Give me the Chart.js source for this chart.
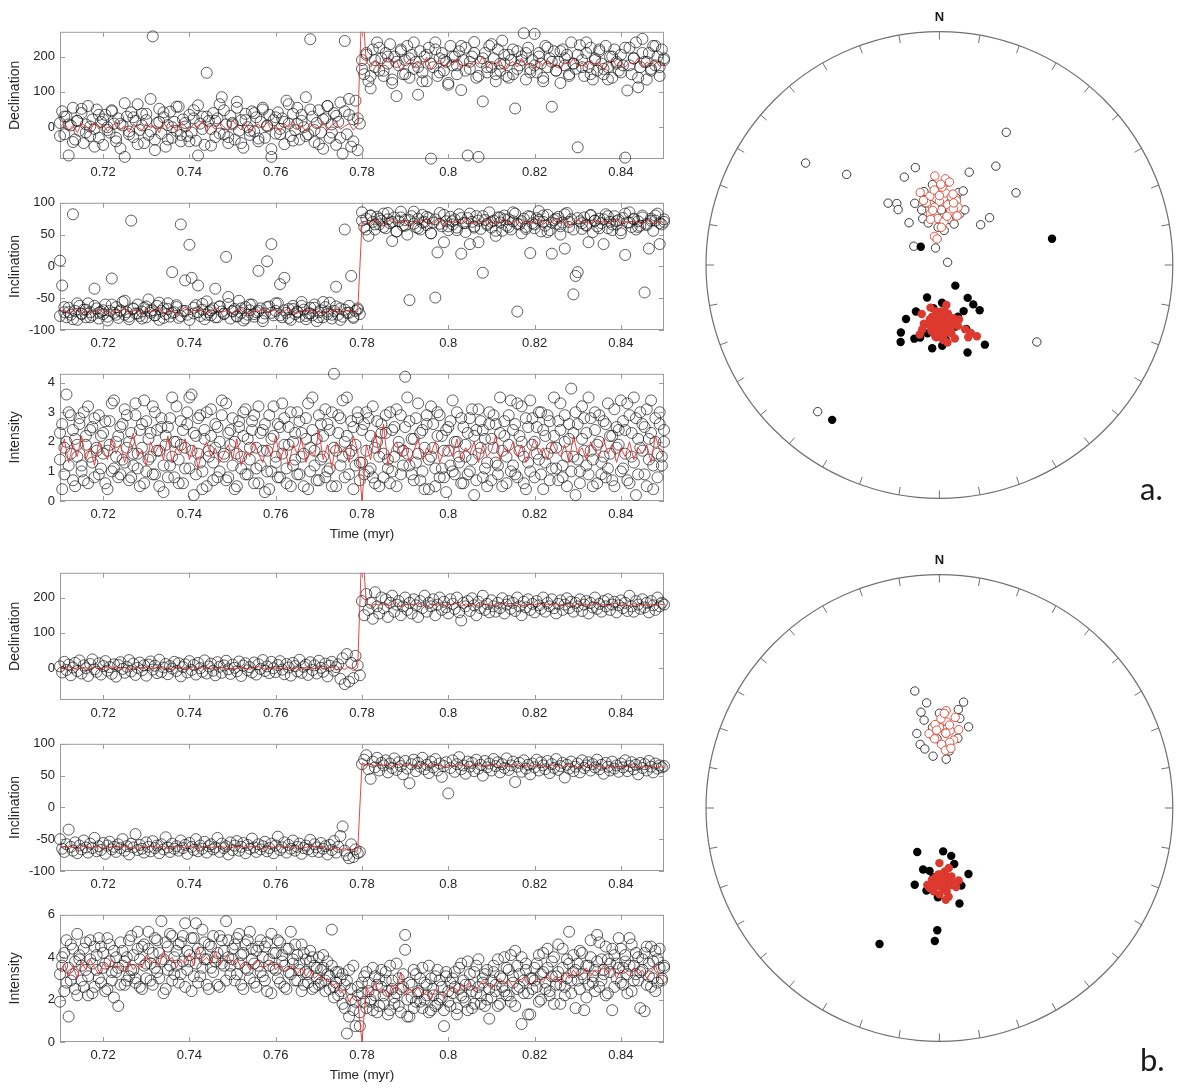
<!DOCTYPE html>
<html>
<head>
<meta charset="utf-8">
<title>Reversal records and stereonets</title>
<script src="https://cdn.jsdelivr.net/npm/chart.js@4.4.1/dist/chart.umd.min.js"></script>
<style>
  html, body { margin: 0; padding: 0; background: #fff; }
  body { width: 1178px; height: 1092px; position: relative; overflow: hidden; }
  canvas { position: absolute; }
</style>
</head>
<body>
<script>
// sample times (myr), one every 0.5 kyr
const times = [
  0.7100,0.7105,0.7110,0.7115,0.7120,0.7125,0.7130,0.7135,0.7140,0.7145,
  0.7150,0.7155,0.7160,0.7165,0.7170,0.7175,0.7180,0.7185,0.7190,0.7195,
  0.7200,0.7205,0.7210,0.7215,0.7220,0.7225,0.7230,0.7235,0.7240,0.7245,
  0.7250,0.7255,0.7260,0.7265,0.7270,0.7275,0.7280,0.7285,0.7290,0.7295,
  0.7300,0.7305,0.7310,0.7315,0.7320,0.7325,0.7330,0.7335,0.7340,0.7345,
  0.7350,0.7355,0.7360,0.7365,0.7370,0.7375,0.7380,0.7385,0.7390,0.7395,
  0.7400,0.7405,0.7410,0.7415,0.7420,0.7425,0.7430,0.7435,0.7440,0.7445,
  0.7450,0.7455,0.7460,0.7465,0.7470,0.7475,0.7480,0.7485,0.7490,0.7495,
  0.7500,0.7505,0.7510,0.7515,0.7520,0.7525,0.7530,0.7535,0.7540,0.7545,
  0.7550,0.7555,0.7560,0.7565,0.7570,0.7575,0.7580,0.7585,0.7590,0.7595,
  0.7600,0.7605,0.7610,0.7615,0.7620,0.7625,0.7630,0.7635,0.7640,0.7645,
  0.7650,0.7655,0.7660,0.7665,0.7670,0.7675,0.7680,0.7685,0.7690,0.7695,
  0.7700,0.7705,0.7710,0.7715,0.7720,0.7725,0.7730,0.7735,0.7740,0.7745,
  0.7750,0.7755,0.7760,0.7765,0.7770,0.7775,0.7780,0.7785,0.7790,0.7795,
  0.7800,0.7805,0.7810,0.7815,0.7820,0.7825,0.7830,0.7835,0.7840,0.7845,
  0.7850,0.7855,0.7860,0.7865,0.7870,0.7875,0.7880,0.7885,0.7890,0.7895,
  0.7900,0.7905,0.7910,0.7915,0.7920,0.7925,0.7930,0.7935,0.7940,0.7945,
  0.7950,0.7955,0.7960,0.7965,0.7970,0.7975,0.7980,0.7985,0.7990,0.7995,
  0.8000,0.8005,0.8010,0.8015,0.8020,0.8025,0.8030,0.8035,0.8040,0.8045,
  0.8050,0.8055,0.8060,0.8065,0.8070,0.8075,0.8080,0.8085,0.8090,0.8095,
  0.8100,0.8105,0.8110,0.8115,0.8120,0.8125,0.8130,0.8135,0.8140,0.8145,
  0.8150,0.8155,0.8160,0.8165,0.8170,0.8175,0.8180,0.8185,0.8190,0.8195,
  0.8200,0.8205,0.8210,0.8215,0.8220,0.8225,0.8230,0.8235,0.8240,0.8245,
  0.8250,0.8255,0.8260,0.8265,0.8270,0.8275,0.8280,0.8285,0.8290,0.8295,
  0.8300,0.8305,0.8310,0.8315,0.8320,0.8325,0.8330,0.8335,0.8340,0.8345,
  0.8350,0.8355,0.8360,0.8365,0.8370,0.8375,0.8380,0.8385,0.8390,0.8395,
  0.8400,0.8405,0.8410,0.8415,0.8420,0.8425,0.8430,0.8435,0.8440,0.8445,
  0.8450,0.8455,0.8460,0.8465,0.8470,0.8475,0.8480,0.8485,0.8490,0.8495,
  0.8500
];
// the red running curve (and the extra samples) are at every second time (1 kyr)
const lineTimes = times.filter((t, i) => i % 2 === 0);

const xTicks = [0.72, 0.74, 0.76, 0.78, 0.8, 0.82, 0.84];

// ---- record a ----
const decA = [
  12,45,-20,30,-80,5,55,-35,18,-10,
  40,-45,8,60,-25,22,-5,50,-30,15,
  -50,35,0,-15,48,10,-40,25,-60,5,
  -84,30,-12,42,-28,18,65,-8,38,-45,
  20,-22,80,257,-35,12,52,-18,28,-55,
  6,44,-30,15,-10,58,-40,22,2,-25,
  35,-15,48,-38,-80,10,30,-50,154,18,
  -5,40,-28,25,65,85,-20,8,-45,32,
  12,-35,55,-10,20,-58,38,0,-22,45,
  -12,28,-40,15,50,-30,5,35,-84,20,
  -18,42,-5,25,-48,75,10,-25,38,-8,
  55,-35,18,0,85,-20,249,30,-42,12,
  48,-15,-61,25,60,-30,8,40,-50,15,
  70,-75,244,-20,35,-55,22,75,-65,10,
  190,150,205,130,110,220,170,240,160,195,
  145,210,180,235,125,200,88,175,220,150,
  190,230,140,205,165,185,92,215,155,200,
  130,225,-89,170,240,145,195,210,160,185,
  120,230,175,200,150,215,105,190,225,-80,
  165,200,241,140,-84,185,73,210,155,230,
  170,195,130,220,160,245,180,145,205,190,
  150,53,215,175,200,266,135,225,165,190,
  264,155,210,180,140,230,170,195,58,215,
  160,185,125,220,175,205,150,240,180,165,
  -57,232,190,145,210,170,225,135,195,160,
  215,180,150,230,170,200,140,220,185,160,
  205,175,-86,104,225,150,195,240,113,170,
  250,185,135,210,165,230,175,200,145,220,
  190
];
const decA2 = [
  -25,30,8,-42,18,52,-15,2,-55,35,
  22,-8,45,-30,10,68,-20,28,-48,5,
  38,-12,-65,15,42,-35,0,58,-22,12,
  -40,25,62,-5,30,-52,18,-18,48,-28,
  8,72,-45,20,-10,40,-32,55,3,-62,
  28,-20,15,65,-38,10,35,-25,50,-8,
  -48,22,60,-15,32,-30,45,80,-40,25,
  165,210,145,190,225,160,200,135,185,215,
  150,195,240,170,130,205,180,220,155,190,
  125,200,175,230,160,185,210,145,195,170,
  235,150,180,205,140,220,165,190,210,155,
  175,200,130,225,185,160,215,195,145,180,
  205,170,240,150,190,220,165,135,200,180,
  155,225,175,195,140,210,185,160,230,170,
  195
];
const decALine = [
  0,12,-8,5,-15,10,3,-10,14,-5,
  8,-12,2,15,-6,4,-14,9,0,-9,
  11,-3,6,-16,13,-4,7,-11,16,2,
  -7,10,-2,18,-12,5,-6,14,1,-10,
  20,4,-8,12,-14,3,9,-5,15,-9,
  6,-13,10,0,17,-7,4,-11,12,2,
  -4,16,-9,7,13,-6,3,10,-8,5,
  355,
  185,170,190,165,182,195,172,188,160,178,
  192,168,184,175,198,162,180,190,170,186,
  176,194,166,182,172,188,178,200,168,184,
  174,190,162,180,186,170,195,176,182,166,
  188,174,192,170,180,164,186,178,194,172,
  182,168,190,176,184,160,180,192,174,186,
  170,182,178,196,168,184,176,190,172,180
];
const incA = [
  9,-30,-72,-80,-65,-76,82,-70,-84,-62,
  -74,-68,-80,-58,-72,-77,-35,-66,-82,-71,
  -75,-60,-79,-70,-19,-73,-64,-81,-69,-56,
  -76,-72,-83,72,-67,-74,-60,-78,-71,-65,
  -80,-52,-73,-69,-77,-62,-84,-70,-66,-75,
  -58,-79,-9,-72,-64,-81,66,-70,-22,-76,
  34,-18,-74,-61,-30,-78,-68,-83,-55,-72,
  -77,-66,-35,-80,-63,-71,-75,15,-59,-82,
  -70,-67,-78,-54,-73,-85,-64,-76,-69,-60,
  -79,-72,-7,-66,-81,-74,8,-63,35,-77,
  -70,-58,-28,-80,-18,-73,-67,-84,-62,-75,
  -71,-79,-56,-68,-83,-74,-65,-77,-60,-86,
  -72,-69,-80,-64,-75,-57,-82,-70,-32,-76,
  -66,-79,58,-73,-62,-15,-81,-70,-68,-75,
  85,62,75,48,80,70,58,78,66,72,
  83,60,74,68,40,77,55,71,86,64,
  73,50,-53,79,67,62,75,58,81,70,
  65,76,52,69,-49,22,84,63,38,71,
  57,78,66,74,61,82,20,68,54,76,
  35,70,63,79,38,59,-10,73,67,85,
  61,72,48,77,69,56,80,64,74,58,
  71,83,-71,66,52,75,62,79,21,68,
  60,76,87,55,70,64,81,57,20,73,
  67,78,50,69,28,84,62,74,-44,-15,
  -9,71,59,77,65,38,80,54,72,63,
  75,68,35,82,60,70,57,79,66,73,
  52,76,18,69,85,62,74,58,71,64,
  80,-41,67,28,75,56,72,83,35,66,
  70
];
const incA2 = [
  -78,-64,-72,-83,-58,-75,-68,-80,-62,-73,
  -69,-85,-60,-76,-71,-54,-79,-66,-74,-82,
  -63,-70,-77,-57,-81,-67,-73,-61,-78,-70,
  -84,-65,-72,-59,-76,-69,-80,-63,-74,-48,
  -71,-79,-66,-82,-60,-75,-70,-86,-64,-73,
  -58,-77,-69,-81,-67,-72,-62,-78,-74,-65,
  -80,-56,-71,-76,-63,-84,-68,-73,-79,-66,
  72,58,80,66,75,62,84,70,55,77,
  64,73,86,60,69,78,52,74,67,81,
  63,71,57,76,68,83,61,72,79,65,
  70,56,77,74,62,85,67,71,59,78,
  66,73,80,54,69,75,63,82,70,58,
  76,68,64,81,72,60,74,79,66,71,
  57,83,69,75,62,77,65,72,80,68,
  74
];
const incALine = [
  -72,-68,-74,-70,-66,-73,-69,-75,-71,-67,
  -73,-70,-76,-68,-72,-65,-74,-70,-69,-75,
  -67,-72,-70,-66,-74,-71,-68,-76,-70,-64,
  -73,-69,-72,-67,-75,-70,-66,-73,-71,-68,
  -74,-70,-65,-72,-76,-69,-71,-67,-73,-70,
  -68,-75,-70,-66,-72,-74,-69,-71,-67,-73,
  -70,-76,-68,-72,-65,-74,-70,-69,-73,-71,
  68,72,66,74,69,64,71,75,67,70,
  73,65,69,72,68,76,66,70,74,63,
  71,69,73,67,75,70,66,72,68,74,
  64,71,69,76,67,70,73,65,72,68,
  70,74,66,71,69,75,67,72,64,70,
  73,68,71,66,74,69,72,67,70,75,
  65,71,68,73,69,66,72,70,67,71,
  69
];
const intA1 = [
  2.3,0.4,1.8,3.6,1.2,2.9,0.7,2.1,1.5,2.6,
  1.0,3.0,1.9,0.6,2.4,1.3,2.8,1.7,0.9,2.2,
  1.6,2.7,0.4,1.9,3.3,1.1,2.0,0.8,2.5,1.4,
  3.1,1.8,0.7,2.3,1.2,2.9,1.6,0.5,2.6,3.4,
  1.0,2.1,1.5,3.2,0.9,2.4,1.7,2.8,0.3,1.9,
  2.5,1.2,3.5,0.8,2.0,1.4,2.7,0.6,1.8,3.0,
  1.1,3.6,0.2,2.2,1.6,2.9,1.0,2.4,0.5,1.7,
  3.1,1.3,2.6,0.8,2.0,3.4,1.5,0.7,2.3,1.9,
  2.8,0.4,1.6,2.5,1.1,3.0,0.9,2.1,1.4,2.7,
  0.6,1.8,3.2,1.2,2.4,0.3,1.7,2.9,1.0,2.2,
  1.5,2.6,0.8,3.3,1.9,1.1,2.5,0.5,2.0,1.4,
  3.0,0.9,2.3,1.6,2.8,0.4,1.8,3.5,1.2,2.1,
  0.7,2.6,1.5,3.1,1.0,2.4,0.5,4.3,1.7,2.9,
  1.2,3.4,0.8,2.2,1.6,2.7,0.4,1.9,3.0,1.3,
  2.4,0.9,1.7,2.8,1.1,3.2,0.6,2.0,1.5,2.6,
  0.8,2.3,1.4,3.0,1.0,2.5,0.5,1.8,2.9,1.2,
  4.2,1.6,2.7,0.9,2.1,1.3,3.3,0.7,2.4,1.8,
  2.9,0.4,1.5,2.6,1.1,3.0,0.8,2.2,1.7,0.3,
  2.5,1.2,3.4,0.9,2.0,1.5,2.8,0.6,1.9,2.3,
  1.0,3.1,0.2,2.4,1.6,2.7,0.8,2.1,1.3,3.0,
  0.7,1.8,2.6,1.2,3.5,0.5,2.2,1.5,2.9,1.0,
  2.4,0.9,3.3,1.7,2.0,0.6,2.8,1.3,3.4,1.9,
  0.8,2.5,1.4,3.0,0.4,2.2,1.6,2.7,1.1,3.5,
  1.8,0.7,2.4,1.2,2.9,0.5,2.1,3.8,1.5,0.2,
  2.6,1.0,3.2,1.7,2.3,0.9,2.8,1.4,3.0,0.6,
  2.0,1.3,2.7,0.8,3.3,1.6,2.2,0.5,2.5,1.9,
  3.4,1.1,2.4,0.7,2.9,1.5,3.5,0.2,2.1,1.8,
  2.6,0.9,3.1,1.4,2.3,0.4,2.8,1.6,3.0,1.2,
  2.4
];
const intA2 = [
  1.4,2.6,0.9,2.0,3.0,1.6,2.4,0.5,1.9,2.8,
  1.2,0.7,2.2,3.2,1.5,2.5,0.8,1.8,2.9,1.1,
  2.3,0.6,1.7,2.7,1.0,3.4,1.5,2.2,0.9,2.6,
  1.3,2.9,2.0,0.8,1.6,3.3,1.1,2.4,1.8,0.6,
  2.7,1.4,2.3,0.9,3.0,1.7,0.5,2.5,1.2,2.2,
  0.8,2.8,1.5,2.0,3.2,0.6,1.9,2.4,1.1,2.6,
  3.5,1.7,2.3,0.9,2.8,1.3,0.4,2.1,3.0,1.5,
  2.2,0.7,1.8,2.5,1.0,2.9,1.6,3.3,0.8,2.4,
  1.2,2.0,0.5,2.7,1.5,2.2,3.1,0.9,1.8,2.4,
  2.9,1.1,0.6,2.3,1.7,2.6,1.0,0.4,2.1,3.2,
  1.3,0.8,2.5,1.6,2.8,0.6,1.9,3.0,1.2,2.3,
  0.9,2.7,1.5,0.5,2.1,3.3,1.0,2.4,1.7,0.7,
  2.9,1.4,2.2,0.8,2.6,1.1,3.0,1.8,0.5,2.3,
  2.8,1.5,2.0,3.5,0.9,1.7,2.5,1.2,2.8,0.7,
  1.3,2.6,3.0,1.0,2.2,0.8,1.8,2.7,0.5,2.3,
  1.6,2.9,1.1,0.6,2.4,1.5,3.1,2.0,0.9,1.7,
  2.5,3.5,1.2,2.1,0.7,2.8,1.6,2.3,1.0,0.4,
  2.6,1.4,3.2,1.8,0.5,2.2,2.9,1.1,0.8,2.4,
  1.7,2.7,1.0,2.0,3.0,1.3,0.6,2.5,1.5,0.9,
  2.8,1.4,2.2,0.7,3.1,1.8,2.4,1.1,0.5,2.6,
  2.1,2.9,1.3,0.9,2.3,1.7,2.7,0.6,1.9,3.4,
  1.2,2.6,0.8,2.2,3.2,1.5,0.4,2.5,1.0,2.8,
  2.0,1.6,3.0,0.9,2.4,1.3,2.9,0.7,1.8,2.2,
  1.1,2.7,3.3,0.8,2.0,1.5,2.6,1.0,2.3,3.0,
  1.4,0.6,2.1,2.8,1.2,3.5,1.7,0.5,2.4,1.9,
  2.9,0.9,1.5,2.6,1.1,2.2,0.7,3.1,1.8,2.4,
  1.0,2.7,1.6,3.3,0.6,2.3,1.3,2.8,0.9,3.0,
  1.7,2.5,0.5,2.1,3.4,1.2,2.0,0.8,2.6,1.5,
  2.0
];
const intALine = [
  1.6,2.1,1.3,1.9,1.5,2.2,1.4,1.8,1.2,2.0,
  1.7,1.4,2.1,1.6,1.9,1.3,1.8,2.3,1.5,1.7,
  1.2,2.0,1.6,1.9,1.4,2.2,1.3,1.8,1.6,2.1,
  1.4,1.9,1.1,1.7,2.0,1.5,1.8,1.3,1.6,1.9,
  1.4,2.1,1.2,1.7,1.5,2.0,1.6,1.3,1.9,1.5,
  2.2,1.4,1.8,1.2,1.9,1.6,2.1,1.3,1.7,1.5,
  2.4,1.4,1.9,1.1,2.0,1.6,1.8,1.3,2.2,1.7,
  0.0,
  1.9,1.4,2.3,1.6,2.6,1.2,1.8,2.0,1.5,1.9,
  1.3,1.7,2.1,1.4,1.8,1.6,2.0,1.3,1.7,1.9,
  1.5,2.1,1.4,1.8,1.6,2.0,1.3,1.9,1.5,1.7,
  2.2,1.4,1.8,1.6,2.0,1.5,1.9,1.3,1.7,2.1,
  1.6,1.8,1.4,2.0,1.7,1.5,1.9,1.3,2.2,1.6,
  1.8,1.4,2.0,1.7,1.5,2.1,1.6,1.9,1.3,1.8,
  1.5,2.0,1.4,1.8,1.6,1.9,1.3,2.2,1.7,1.5
];

// ---- record b ----
const decB = [
  5,-12,18,-5,10,-20,2,15,-8,22,
  -15,8,0,-22,12,25,-3,-10,14,-18,
  6,20,-7,3,-16,11,-24,9,17,-2,
  -13,4,23,-9,13,-19,1,16,-6,8,
  -21,10,19,-4,7,-14,24,-11,2,12,
  -17,6,-1,18,-8,14,-23,3,11,-12,
  20,-5,9,-18,15,0,-10,22,-15,5,
  13,-7,-20,17,4,-13,8,21,-3,-16,
  10,1,-9,19,-22,7,14,-6,3,-12,
  16,-18,11,-2,23,-8,5,-14,18,0,
  -11,9,20,-4,-17,12,2,-21,15,6,
  -9,24,-13,4,10,-19,17,-5,8,-15,
  21,1,-10,13,-23,7,18,-7,3,11,
  -30,28,-45,40,-38,15,-28,35,8,-20,
  190,150,210,165,185,140,215,175,155,200,
  170,195,145,185,205,160,180,190,150,175,
  200,165,185,155,195,178,145,190,170,205,
  160,185,175,195,150,180,200,165,188,172,
  155,195,182,168,200,158,135,185,175,190,
  162,198,178,150,188,170,205,165,182,158,
  192,175,160,185,170,198,155,180,190,168,
  185,162,200,175,150,188,172,195,165,182,
  158,190,178,168,200,160,185,175,195,170,
  155,182,192,165,180,198,170,188,160,185,
  175,195,162,180,190,155,185,172,200,168,
  182,160,190,175,195,165,180,188,158,178,
  192,170,185,162,205,175,160,190,180,168,
  195,172,185,158,190,178,165,200,175,185,
  180
];
const decBLine = [
  2,-3,4,0,-5,3,1,-2,5,-4,
  0,3,-1,4,-3,2,-5,1,3,-2,
  4,-1,0,5,-3,2,-4,1,3,-2,
  0,4,-3,2,-1,5,-2,0,3,-4,
  1,-2,4,0,-3,2,5,-1,-4,3,
  0,-2,4,1,-3,2,-5,3,0,-1,
  4,-3,2,6,-6,3,-4,5,-8,2,
  355,
  186,175,182,178,184,176,181,186,174,180,
  183,177,185,179,174,182,178,184,176,181,
  179,185,175,182,178,180,176,184,179,182,
  175,181,186,177,180,183,178,176,182,179,
  185,177,181,178,184,176,180,182,175,183,
  179,181,177,185,178,180,176,182,184,178,
  181,176,183,179,180,177,182,178,181,180
];
const incB = [
  -50,-65,-70,-58,-35,-62,-68,-55,-72,-60,
  -66,-52,-63,-71,-57,-64,-48,-69,-61,-67,
  -56,-73,-60,-54,-66,-62,-70,-58,-64,-50,
  -68,-61,-74,-57,-63,-42,-67,-59,-65,-71,
  -55,-62,-69,-53,-64,-60,-72,-58,-66,-47,
  -63,-70,-57,-65,-61,-68,-52,-64,-59,-73,
  -56,-62,-67,-50,-69,-60,-65,-54,-71,-61,
  -58,-66,-63,-48,-70,-57,-64,-61,-74,-55,
  -67,-60,-53,-68,-62,-56,-72,-59,-65,-49,
  -63,-70,-58,-66,-61,-54,-69,-64,-57,-72,
  -60,-46,-67,-63,-55,-71,-59,-65,-52,-68,
  -62,-57,-73,-64,-60,-66,-51,-69,-58,-63,
  -70,-56,-65,-61,-74,-59,-67,-53,-71,-62,
  -45,-30,-68,-75,-80,-58,-78,-66,-72,-70,
  68,75,82,60,45,72,63,78,58,70,
  66,74,55,69,62,77,59,71,65,52,
  73,61,38,68,75,57,70,64,78,60,
  67,54,72,63,76,58,69,48,65,71,
  22,62,74,56,68,79,60,66,53,72,
  64,70,57,75,61,67,50,73,63,69,
  58,76,65,71,55,68,62,77,59,66,
  72,40,64,70,56,74,61,67,52,69,
  63,75,58,71,66,60,73,54,68,62,
  76,59,65,70,47,67,61,72,57,64,
  69,55,74,62,66,71,58,68,63,75,
  60,67,53,70,64,58,72,61,66,56,
  69,63,74,57,65,71,60,67,52,70,
  62,68,58,73,64,55,69,61,66,63,
  65
];
const incBLine = [
  -62,-64,-61,-63,-65,-62,-60,-64,-63,-61,
  -65,-62,-64,-60,-63,-61,-64,-62,-66,-61,
  -63,-60,-64,-62,-61,-65,-63,-60,-62,-64,
  -61,-63,-65,-62,-60,-64,-61,-63,-62,-65,
  -60,-63,-61,-64,-62,-60,-63,-65,-61,-62,
  -64,-60,-63,-61,-65,-62,-64,-63,-60,-62,
  -64,-61,-66,-63,-65,-67,-64,-68,-66,-69,
  70,67,69,65,68,66,70,64,67,69,
  65,68,63,66,69,64,67,65,68,63,
  66,64,69,65,67,63,68,66,64,67,
  65,69,63,66,64,68,65,67,63,66,
  64,68,65,62,67,64,66,63,68,65,
  62,66,64,67,63,65,61,66,64,62,
  65,63,67,64,62,65,63,66,62,64,
  63
];
const intB1 = [
  1.9,3.6,4.2,2.8,1.2,4.6,3.2,2.5,5.1,3.9,
  2.9,4.4,3.4,2.2,4.8,3.7,2.6,4.1,3.0,4.5,
  3.5,2.4,4.9,3.8,2.9,4.3,3.3,1.7,4.7,3.6,
  2.7,4.0,3.1,5.0,3.4,2.8,4.4,3.9,2.5,4.6,
  3.7,5.2,2.9,4.2,3.5,4.8,3.0,5.7,3.9,2.5,
  4.5,3.6,5.0,3.2,4.3,2.8,4.7,3.8,5.6,3.4,
  4.1,2.4,4.9,3.7,4.4,3.1,5.3,3.9,2.7,4.6,
  3.5,5.0,3.8,4.2,2.6,4.8,3.6,5.7,4.0,3.2,
  4.4,2.9,4.9,3.7,4.1,2.5,4.6,3.4,5.2,3.9,
  2.8,4.3,3.6,4.8,3.1,4.5,2.4,3.9,5.1,3.5,
  4.2,3.0,4.7,3.8,2.6,4.4,3.3,5.2,3.7,2.9,
  4.1,3.4,4.6,2.7,3.9,3.2,4.3,2.5,3.6,3.0,
  4.0,2.8,3.5,2.4,3.8,3.1,5.3,2.6,3.3,2.2,
  3.0,1.8,2.7,0.4,3.4,2.0,1.5,0.75,2.6,0.75,
  2.3,3.1,1.6,2.8,1.9,3.5,2.2,1.4,3.0,2.6,
  1.8,3.3,2.4,1.5,2.9,2.1,3.7,1.7,2.5,3.2,
  5.05,2.0,1.2,2.7,3.4,1.9,2.3,3.0,1.6,2.8,
  2.2,3.6,1.5,2.5,3.1,1.8,2.9,2.1,0.75,3.3,
  2.4,1.7,3.0,2.6,1.3,3.5,2.2,2.9,1.9,3.8,
  2.7,1.6,3.3,2.3,3.9,1.8,2.8,3.2,2.0,1.1,
  2.9,3.6,2.4,1.7,3.1,2.6,4.0,2.2,3.4,1.9,
  2.8,4.3,2.5,3.2,0.85,2.9,3.7,2.3,1.3,3.0,
  3.5,2.6,4.1,2.0,3.3,2.8,4.4,2.4,3.8,1.8,
  3.1,4.6,2.7,3.5,2.2,3.9,5.2,2.9,3.3,1.6,
  3.7,2.5,4.2,3.0,2.1,3.6,4.8,2.8,3.4,5.05,
  2.6,3.9,3.2,4.5,2.3,3.7,1.5,4.1,3.0,3.5,
  4.4,2.7,3.8,3.2,4.9,2.4,3.6,4.2,2.9,3.3,
  3.9,1.45,4.5,3.1,2.6,3.8,4.3,2.8,3.5,3.0,
  3.6
];
const intB2 = [
  3.2,4.0,2.4,4.8,3.5,2.9,4.4,3.8,2.2,4.1,
  3.6,2.6,4.7,3.1,3.9,2.3,4.5,3.4,4.9,2.8,
  4.2,3.7,2.5,4.6,3.3,2.1,4.0,3.5,2.7,4.3,
  3.8,2.9,4.8,3.4,4.1,3.0,5.2,2.6,4.5,3.6,
  3.0,4.4,3.7,2.7,4.9,3.3,4.2,3.8,2.3,4.7,
  3.4,5.1,2.9,4.0,3.6,4.6,3.2,5.0,2.6,4.3,
  3.8,4.9,3.1,5.6,2.8,4.2,3.5,4.7,3.9,2.5,
  4.5,3.3,4.0,2.7,5.0,3.7,4.3,2.9,4.8,3.6,
  3.9,4.6,3.2,5.1,2.7,4.2,3.5,4.8,3.0,4.4,
  3.7,2.6,4.5,3.3,4.0,2.9,4.7,3.6,2.3,4.2,
  3.4,4.8,2.8,4.1,3.6,2.5,4.4,3.2,3.9,4.6,
  2.9,3.7,2.4,4.2,3.3,2.8,3.8,4.0,2.6,3.5,
  2.7,3.4,4.1,2.9,3.2,2.5,3.6,2.1,2.8,3.3,
  2.4,3.2,1.6,2.9,1.2,2.5,3.6,1.9,2.2,1.4,
  2.8,1.9,3.3,2.4,2.0,1.5,3.1,2.7,1.7,3.4,
  2.2,2.9,1.3,3.6,2.5,1.8,2.3,3.0,1.4,2.6,
  4.35,1.2,2.8,2.1,1.6,3.2,2.4,1.9,3.5,2.0,
  2.7,1.4,3.0,2.2,1.7,3.4,2.0,2.6,1.5,3.1,
  1.9,2.8,2.3,3.3,1.6,2.5,3.7,2.1,2.7,1.5,
  3.2,2.4,1.8,3.6,2.6,2.2,3.0,1.7,3.4,2.5,
  2.1,3.3,2.7,3.9,1.8,3.0,2.4,3.5,2.2,4.1,
  3.1,1.7,3.6,2.6,4.0,2.3,3.4,1.3,3.0,2.5,
  2.9,3.7,1.9,3.2,4.2,2.5,3.5,2.2,3.1,4.0,
  2.7,3.3,1.8,4.4,2.6,3.0,3.7,2.3,4.1,3.4,
  2.9,4.3,3.2,1.5,3.6,2.7,4.0,3.1,2.4,3.8,
  4.7,2.9,3.4,2.2,3.9,3.3,4.4,2.6,3.7,4.9,
  2.8,3.5,4.1,2.3,3.6,4.6,2.9,3.2,4.0,1.6,
  3.4,4.2,2.7,3.7,4.5,3.0,2.4,3.9,4.4,2.9,
  3.5
];
const intBLine = [
  3.3,3.7,3.1,3.6,3.0,3.8,3.4,3.9,3.5,3.2,
  3.7,3.4,3.9,3.5,3.6,3.3,3.8,3.4,3.7,3.5,
  4.1,3.7,3.9,3.6,4.3,3.8,4.0,3.5,3.9,3.7,
  4.2,3.6,4.5,3.8,4.0,3.7,4.3,3.6,3.9,4.1,
  3.6,3.9,3.5,3.8,3.4,3.7,3.9,3.5,3.6,3.8,
  3.4,3.7,3.3,3.5,3.6,3.2,3.5,3.1,3.4,3.0,
  3.2,2.9,3.0,2.6,2.8,2.3,2.5,1.9,2.2,2.0,
  0.0,
  2.6,2.2,2.8,2.3,2.5,2.1,2.7,2.4,3.3,2.2,
  2.5,2.3,2.6,2.2,2.4,2.0,2.5,2.3,2.1,2.4,
  2.6,2.3,2.7,2.5,2.8,2.4,2.6,2.9,2.7,2.5,
  2.8,3.0,2.7,2.9,2.6,3.0,2.8,3.1,2.7,2.9,
  3.0,2.8,3.2,2.9,3.1,2.7,3.3,3.0,3.4,3.1,
  3.2,3.5,3.1,3.4,3.3,3.6,3.2,3.5,3.0,3.4,
  3.3,3.1,3.5,3.2,3.4,3.0,3.3,3.6,3.1,2.8
];

// ---- stereonet directions (declination, inclination in degrees) ----
const netA = {
  openDec: [307,314,27,30,47,18,47,46,346,338,320,325,323,324,306,347,72,128,220,
            350,5,15,340,355,10,22,345,0,8,352,18,338,3,12,348,25,358,6,342,14,356,20,347,2],
  openInc: [-29,-44,-37,-50,-53,-56,-66,-70,-55,-57,-62,-64,-66,-72,-79,-84,-87,-46,-20,
            -66,-70,-64,-73,-62,-68,-71,-75,-65,-78,-69,-63,-67,-72,-74,-64,-69,-77,-61,-70,-66,-73,-75,-68,-71],
  openRedDec: [0,5,355,10,350,2,8,358,15,345,4,12,352,6,18,348,1,9,356,14,3,346,11,7,353,20,357,0,13,349,350,355],
  openRedInc: [-68,-65,-70,-66,-72,-63,-69,-74,-67,-64,-60,-71,-66,-75,-69,-68,-62,-73,-64,-70,-77,-67,-65,-61,-71,-72,-59,-66,-68,-74,-80,-81],
  fillDec: [142,201,139,139,138,207,212,210,207,199,185,175,162,150,157,152,176,314,77,215,
            170,190,182,165,195,178,160,188],
  fillInc: [81,78,75,72,69,72,68,63,60,63,61,64,58,58,66,72,77,81,49,21,
            70,66,73,68,64,62,71,75],
  fillRedDec: [180,175,185,170,190,178,165,195,182,172,188,168,200,176,184,160,192,174,186,179,170,183,196,163,181,177,189,158,173,187,
               180,175,186,170,182,178,190,168,184,176,172,188,180,165,195,183,174,179,170,185,155,158,152],
  fillRedInc: [70,68,72,66,69,74,71,67,65,73,70,64,72,68,66,70,75,63,71,69,76,67,65,68,73,64,70,63,71,67,
               72,70,69,73,67,71,71,69,74,66,68,72,66,70,69,65,74,68,67,70,64,66,62]
};
const netB = {
  openDec: [348,353,13,11,349,343,343,353,8,20,13,355,5,358,2,350,15,346,10,0],
  openInc: [-48,-53,-52,-55,-56,-63,-67,-72,-73,-60,-58,-62,-64,-66,-60,-59,-65,-69,-70,-57],
  openRedDec: [0,5,355,10,2,8,357,12,4,352,6,14,1,9,358,3,11,7,356,5],
  openRedInc: [-62,-60,-65,-58,-68,-63,-61,-66,-56,-64,-70,-62,-59,-67,-63,-57,-69,-61,-66,-64],
  fillDec: [207,175,166,165,156,198,189,181,168,164,189,181,182,204,185,172,195],
  fillInc: [73,75,73,70,65,62,61,59,56,62,68,47,43,37,66,64,68],
  fillRedDec: [177,172,183,168,186,175,180,170,189,174,181,165,184,178,171,187,176,182,180,
               178,174,182,176,180,172,185,179,175,181,177,183,170,186],
  fillRedInc: [65,63,66,62,64,68,60,66,63,59,67,64,61,65,69,62,58,64,71,
               64,66,65,62,63,65,64,67,61,66,62,63,64,65]
};

Chart.defaults.font.family = '"Liberation Sans", Arial, Helvetica, sans-serif';
Chart.defaults.color = '#262626';
Chart.defaults.animation = false;

function addCanvas(left, top, w, h) {
  const c = document.createElement('canvas');
  c.width = w; c.height = h;
  c.style.left = left + 'px'; c.style.top = top + 'px';
  c.style.width = w + 'px'; c.style.height = h + 'px';
  document.body.appendChild(c);
  return c;
}

// grey box with inward ticks on all four sides
const boxPlugin = {
  id: 'box',
  beforeDatasetsDraw(chart) {
    const { ctx, chartArea: a, scales: { x, y } } = chart;
    ctx.save();
    ctx.strokeStyle = '#9b9b9b';
    ctx.lineWidth = 1;
    ctx.strokeRect(a.left + 0.5, a.top + 0.5, a.right - a.left - 1, a.bottom - a.top - 1);
    ctx.beginPath();
    x.ticks.forEach(t => {
      const px = Math.round(x.getPixelForValue(t.value)) + 0.5;
      ctx.moveTo(px, a.top); ctx.lineTo(px, a.top + 5);
      ctx.moveTo(px, a.bottom); ctx.lineTo(px, a.bottom - 5);
    });
    y.ticks.forEach(t => {
      const py = Math.round(y.getPixelForValue(t.value)) + 0.5;
      ctx.moveTo(a.left, py); ctx.lineTo(a.left + 5, py);
      ctx.moveTo(a.right, py); ctx.lineTo(a.right - 5, py);
    });
    ctx.stroke();
    ctx.restore();
  }
};

// sets: list of [timeArray, valueArray]
function timePanel(top, yTitle, yMin, yMax, yTicks, sets, lineVals, showTime) {
  const xH = showTime ? 46 : 26;
  const cv = addCanvas(0, top - 10, 680, 10 + 130 + xH);
  const datasets = [{
    data: lineTimes.map((t, i) => ({ x: t, y: lineVals[i] })),
    showLine: true, pointRadius: 0, borderWidth: 1,
    borderColor: 'rgba(228,50,50,0.9)', order: 0
  }];
  sets.forEach(([ts, vals]) => datasets.push({
    data: ts.map((t, i) => ({ x: t, y: vals[i] })),
    pointRadius: 5.5, borderWidth: 0.85,
    borderColor: 'rgba(20,20,20,0.8)', backgroundColor: 'rgba(0,0,0,0)',
    order: 1, clip: 7
  }));
  new Chart(cv, {
    type: 'scatter',
    data: { datasets },
    options: {
      responsive: false,
      animation: false,
      events: [],
      layout: { padding: { top: 10, left: 0, right: 16, bottom: 0 } },
      plugins: { legend: { display: false }, tooltip: { enabled: false } },
      scales: {
        x: {
          type: 'linear', min: 0.71, max: 0.85,
          afterBuildTicks: s => { s.ticks = xTicks.map(v => ({ value: v })); },
          afterFit: s => { s.height = xH; },
          grid: { display: false, drawTicks: false },
          border: { display: false },
          ticks: { padding: 6, autoSkip: false, maxRotation: 0, font: { size: 13 }, callback: v => String(v) },
          title: { display: showTime, text: 'Time (myr)', font: { size: 13.5 }, padding: { top: 0, bottom: 5 } }
        },
        y: {
          type: 'linear', min: yMin, max: yMax,
          afterBuildTicks: s => { s.ticks = yTicks.map(v => ({ value: v })); },
          afterFit: s => { s.width = 60; },
          grid: { display: false, drawTicks: false },
          border: { display: false },
          ticks: { padding: 5, autoSkip: false, font: { size: 13 }, callback: v => String(v) },
          title: { display: true, text: yTitle, font: { size: 14 }, padding: { top: 7, bottom: 0 } }
        }
      }
    },
    plugins: [boxPlugin]
  });
}

timePanel(29, 'Declination', -90, 270, [0, 100, 200], [[times, decA], [lineTimes, decA2]], decALine, false);
timePanel(200, 'Inclination', -100, 100, [-100, -50, 0, 50, 100], [[times, incA], [lineTimes, incA2]], incALine, false);
timePanel(371, 'Intensity', 0, 4.3, [0, 1, 2, 3, 4], [[times, intA1], [times, intA2]], intALine, true);
timePanel(570, 'Declination', -90, 270, [0, 100, 200], [[times, decB]], decBLine, false);
timePanel(741, 'Inclination', -100, 100, [-100, -50, 0, 50, 100], [[times, incB]], incBLine, false);
timePanel(912, 'Intensity', 0, 6, [0, 2, 4, 6], [[times, intB1], [times, intB2]], intBLine, true);

// equal-area (Lambert) projection of a direction
function project(decs, incs) {
  return decs.map((d, i) => {
    const r = Math.SQRT2 * Math.sin((90 - Math.abs(incs[i])) * Math.PI / 360);
    const a = d * Math.PI / 180;
    return { x: r * Math.sin(a), y: r * Math.cos(a) };
  });
}

function stereoPlugin(letter, letterX, letterY) {
  return {
    id: 'net' + letter,
    beforeDatasetsDraw(chart) {
      const { ctx, scales: { x, y } } = chart;
      const cx = x.getPixelForValue(0), cy = y.getPixelForValue(0);
      const R = x.getPixelForValue(1) - cx;
      ctx.save();
      ctx.strokeStyle = '#707070';
      ctx.lineWidth = 1.2;
      ctx.beginPath();
      ctx.arc(cx, cy, R, 0, Math.PI * 2);
      ctx.stroke();
      ctx.lineWidth = 1;
      ctx.beginPath();
      for (let az = 0; az < 360; az += 10) {
        const a = az * Math.PI / 180;
        ctx.moveTo(cx + R * Math.sin(a), cy - R * Math.cos(a));
        ctx.lineTo(cx + (R - 8) * Math.sin(a), cy - (R - 8) * Math.cos(a));
      }
      ctx.stroke();
      ctx.fillStyle = '#1a1a1a';
      ctx.font = 'bold 13px "Liberation Sans", Arial, sans-serif';
      ctx.textAlign = 'center';
      ctx.textBaseline = 'middle';
      ctx.fillText('N', cx, cy - R - 14);
      ctx.font = '31px Lato, "Open Sans", sans-serif';
      ctx.textAlign = 'left';
      ctx.textBaseline = 'alphabetic';
      ctx.fillText(letter, letterX, letterY);
      ctx.restore();
    }
  };
}

function stereonet(top, height, padTop, net, letter, letterY) {
  const cv = addCanvas(690, top, 488, height);
  const pad = { left: 16, right: 0, top: padTop, bottom: height - padTop - 472 };
  new Chart(cv, {
    type: 'scatter',
    data: {
      datasets: [
        { data: project(net.fillRedDec, net.fillRedInc), pointRadius: 4.2, borderWidth: 0,
          backgroundColor: '#dc3a2e', order: 0 },
        { data: project(net.fillDec, net.fillInc), pointRadius: 4.2, borderWidth: 0,
          backgroundColor: '#000000', order: 1 },
        { data: project(net.openRedDec, net.openRedInc), pointRadius: 4.2, borderWidth: 1,
          borderColor: '#e4513f', backgroundColor: '#ffffff', order: 2 },
        { data: project(net.openDec, net.openInc), pointRadius: 4.2, borderWidth: 1,
          borderColor: '#3a3a3a', backgroundColor: '#ffffff', order: 3 }
      ]
    },
    options: {
      responsive: false,
      animation: false,
      events: [],
      layout: { padding: pad },
      plugins: { legend: { display: false }, tooltip: { enabled: false } },
      scales: {
        x: { type: 'linear', min: -1, max: 1, display: false },
        y: { type: 'linear', min: -1, max: 1, display: false }
      }
    },
    plugins: [stereoPlugin(letter, 450, letterY)]
  });
}

stereonet(0, 540, 29, netA, 'a.', 500);
stereonet(540, 552, 32, netB, 'b.', 531);
</script>
</body>
</html>
